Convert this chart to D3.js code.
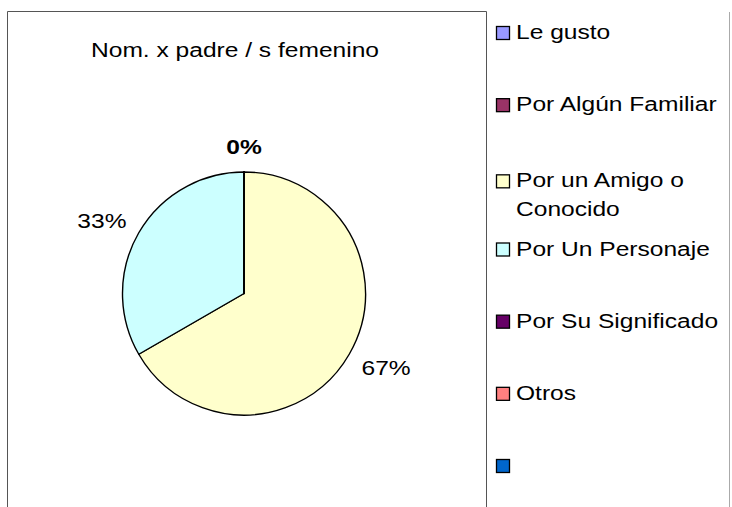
<!DOCTYPE html>
<html>
<head>
<meta charset="utf-8">
<script src="https://cdn.jsdelivr.net/npm/d3@7"></script>
<style>
  html, body { margin: 0; padding: 0; background: #fff; }
  svg { display: block; font-family: "Liberation Sans", Arial, sans-serif; }
</style>
</head>
<body>
<div id="chart"></div>
<script>
const categories = [
  "Le gusto",
  "Por Algún Familiar",
  "Por un Amigo o Conocido",
  "Por Un Personaje",
  "Por Su Significado",
  "Otros",
  ""
];
const values = [0, 0, 2, 1, 0, 0, 0];
const colors = ["#9999FF", "#993366", "#FFFFCC", "#CCFFFF", "#660066", "#FF8080", "#0066CC"];
// legend text is split where the original wraps it
const legendLines = [["Le gusto"], ["Por Algún Familiar"], ["Por un Amigo o", "Conocido"], ["Por Un Personaje"], ["Por Su Significado"], ["Otros"], [""]];
const title = "Nom. x padre / s femenino";

const width = 732, height = 507;
const stretch = 1.17; // the picture's text is wider than it is tall
const fontSize = 21;

const svg = d3.select("#chart").append("svg")
  .attr("width", width)
  .attr("height", height);

// plot frame (bottom edge is cut off in the original)
svg.append("path")
  .attr("d", "M7.5,507V11.5H486.5V507")
  .attr("fill", "none")
  .attr("stroke", "#555")
  .attr("stroke-width", 1);

svg.append("line")
  .attr("x1", 729.5).attr("x2", 729.5)
  .attr("y1", 12).attr("y2", height)
  .attr("stroke", "#aaa")
  .attr("stroke-width", 1);

function stretchedText(sel, x, y, anchor) {
  return sel.append("text")
    .attr("transform", `translate(${x},${y}) scale(${stretch},1)`)
    .attr("text-anchor", anchor)
    .attr("font-size", fontSize)
    .attr("fill", "#000");
}

stretchedText(svg, 235, 57, "middle").text(title);

// pie
const cx = 244, cy = 293.5, r = 121.5;
const total = d3.sum(values);
const pie = d3.pie().sort(null).value(d => d)(values);
const arc = d3.arc().innerRadius(0).outerRadius(r);

const g = svg.append("g").attr("transform", `translate(${cx},${cy})`);

g.selectAll("path")
  .data(pie)
  .enter()
  .append("path")
  .attr("d", arc)
  .attr("fill", (d, i) => colors[i])
  .attr("stroke", "#000")
  .attr("stroke-width", 1.4)
  .attr("stroke-linejoin", "round");

// data labels: box sits just outside the rim, pushed away along the slice angle.
// the empty slices all stack at the top, so their "0%" is drawn once, in bold.
const fmt = d3.format(".0%");
const gap = 18;
let zeroDone = false;
pie.forEach((d) => {
  if (d.value === 0) {
    if (zeroDone) return;
    zeroDone = true;
  }
  const a = (d.startAngle + d.endAngle) / 2 % (2 * Math.PI);
  const t = stretchedText(g, 0, 0, "middle")
    .attr("font-weight", d.value === 0 ? "bold" : "normal")
    .text(fmt(d.value / total));
  const w = t.node().getComputedTextLength() * stretch;
  const h = fontSize * 0.74;
  const ax = Math.sin(a) * (r + gap);
  const ay = -Math.cos(a) * (r + gap);
  const bx = ax + Math.sin(a) * w / 2;
  const by = ay - Math.cos(a) * h / 2;
  t.attr("transform", `translate(${bx},${by + h / 2}) scale(${stretch},1)`);
});

// legend
const legendY = d3.scaleLinear().domain([0, categories.length - 1]).range([39, 472]);
const legend = svg.append("g");
categories.forEach((c, i) => {
  const lines = legendLines[i];
  const base = legendY(i) + (lines.length > 1 ? 4 : 0);
  legend.append("rect")
    .attr("x", 496.5)
    .attr("y", base - 12.5)
    .attr("width", 13)
    .attr("height", 13)
    .attr("fill", colors[i])
    .attr("stroke", "#000")
    .attr("stroke-width", 1.3);
  lines.forEach((line, j) => {
    stretchedText(legend, 516, base + j * 29, "start").text(line);
  });
});
</script>
</body>
</html>
